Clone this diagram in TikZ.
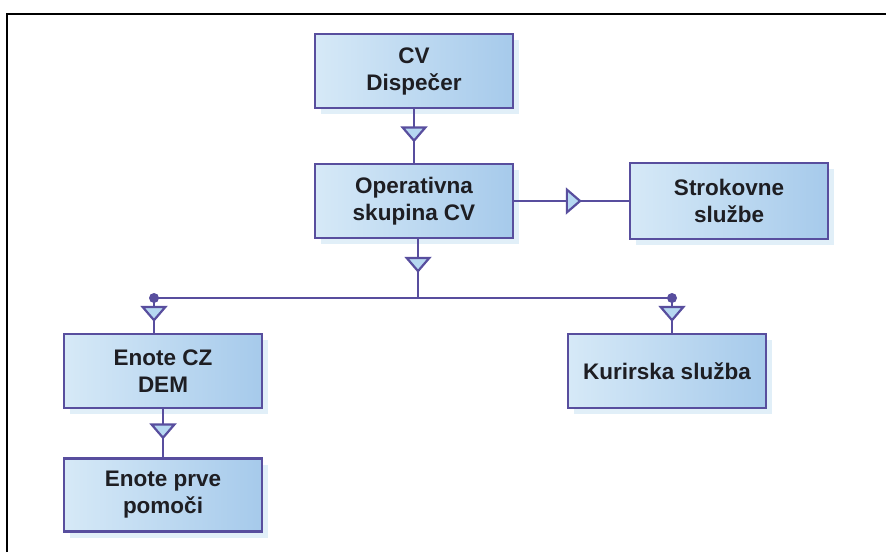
\documentclass[tikz,border=0pt]{standalone}
\usepackage{fontspec}
\setmainfont{Liberation Sans}
\usetikzlibrary{arrows.meta,decorations.markings,shadows}
\definecolor{edge}{RGB}{88,78,158}
\definecolor{boxlo}{RGB}{214,233,247}
\definecolor{boxhi}{RGB}{166,202,235}
\definecolor{trifill}{RGB}{182,216,241}
\definecolor{shade}{RGB}{205,228,244}
\definecolor{ink}{RGB}{30,30,35}
\begin{document}
\begin{tikzpicture}[x=1pt,y=-1pt,
  unit/.style={draw=edge,line width=2.8pt,left color=boxlo,right color=boxhi,
    minimum width=198pt,minimum height=74pt,align=center,text=ink,
    font=\fontsize{22.5}{27}\selectfont\bfseries,
    drop shadow={shadow xshift=6pt,shadow yshift=-6pt,fill=shade,opacity=.6}},
  link/.style={draw=edge,line width=2.8pt},
  tri/.style={postaction={decorate},decoration={markings,
    mark=at position #1 with {\arrow{Triangle[width=27pt,length=16pt,color=edge,fill=trifill,line width=2.2pt]}}}},
  joint/.style={circle,fill=edge,inner sep=0pt,minimum size=10pt}]
\useasboundingbox (0,0) rectangle (886,552);
\draw[line width=2.5pt] (7,552) -- (7,14) -- (886,14);
%%%%
\node[unit] (cv) at (414,71) {CV\\Dispečer};
\node[unit] (op) at (414,201) {Operativna\\skupina CV};
\node[unit,minimum height=76pt] (strok) at (729,201) {Strokovne\\službe};
\node[unit] (dem) at (163,371) {Enote CZ\\DEM};
\node[unit] (kur) at (667,371) {Kurirska služba};
\node[unit,minimum height=73pt] (prve) at (163,495) {Enote prve\\pomoči};
%%%%
\coordinate (hub) at (418,298);
\coordinate (jl) at (154,298);
\coordinate (jr) at (672,298);
\draw[link,tri=.62] (cv) -- (op);
\draw[link,tri=.59] (op) -- (strok);
\draw[link,tri=.57] (op.south -| hub) -- (hub);
\draw[link] (jl) -- (jr);
\draw[link,tri=.69] (jl) -- (jl |- dem.north);
\draw[link,tri=.69] (jr) -- (jr |- kur.north);
\draw[link,tri=.63] (dem) -- (prve);
\node[joint] (jld) at (jl) {};
\node[joint] (jrd) at (jr) {};
\end{tikzpicture}
\end{document}
